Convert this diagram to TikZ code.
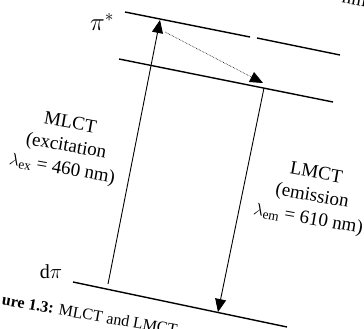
\documentclass[tikz,border=0pt]{standalone}
\usepackage{fontspec}
\setmainfont{Liberation Serif}
\usetikzlibrary{arrows.meta, positioning, calc}

\begin{document}
\begin{tikzpicture}[x=1pt, y=-1pt,
  level/.style={line width=1.4pt},
  trans/.style={line width=0.9pt, -{Triangle[length=13pt, width=11pt]}},
  relax/.style={densely dotted, line width=0.6pt, -{Triangle[length=13pt, width=11pt]}},
  label/.style={font=\fontsize{19}{23}\selectfont, align=center, rotate=-10},
  caption/.style={font=\fontsize{16}{19}\selectfont, anchor=base west, rotate=-10}
]
\useasboundingbox (0,0) rectangle (364,329);

% Energy levels
\coordinate (pistarA) at (125,12);
\coordinate (pistarB) at (250,37);
\coordinate (pistarC) at (257,38);
\coordinate (pistarD) at (340,55);
\coordinate (emitA) at (119,59);
\coordinate (emitB) at (333,102);
\coordinate (dpiA) at (73,282);
\coordinate (dpiB) at (287,327);
\draw[level] (pistarA) -- (pistarB);
\draw[level] (pistarC) -- (pistarD);
\draw[level] (emitA) -- (emitB);
\draw[level] (dpiA) -- (dpiB);

% Level names
\node[font=\fontsize{24}{28}\selectfont] (pistar) at (102,22) {$\pi^*$};
\node[font=\fontsize{20}{24}\selectfont] (dpi) at (51,272) {d$\pi$};

% Transitions
\coordinate (excA) at (108,284);
\coordinate (excB) at (160,20);
\coordinate (emA) at (264,88);
\coordinate (emB) at (218,312);
\coordinate (relA) at (165,32);
\coordinate (relB) at (263,83);
\draw[trans] (excA) -- (excB);
\draw[trans] (emA) -- (emB);
\draw[relax] (relA) -- (relB);

% Transition labels
\node[label] (mlct) at (66,147) {MLCT\\(excitation\\$\lambda_{\mathrm{ex}}$ = 460 nm)};
\node[label] (lmct) at (312,197) {LMCT\\(emission\\$\lambda_{\mathrm{em}}$ = 610 nm)};

% Caption fragments
\node[caption] (cap) at (-2,304) {\textbf{ure 1.3:} MLCT and LMCT};
\node[caption, font=\fontsize{19}{23}\selectfont] (top) at (338,2) {nm};
\end{tikzpicture}
\end{document}
